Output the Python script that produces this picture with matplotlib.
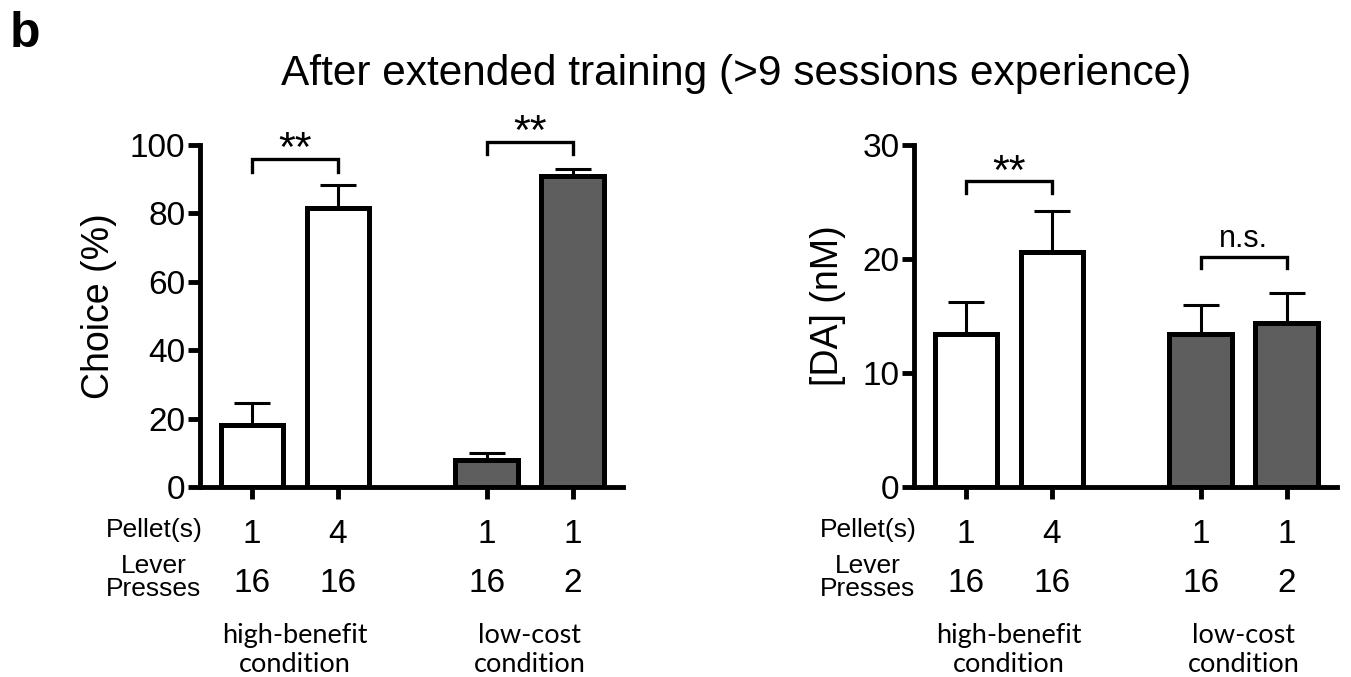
import matplotlib
matplotlib.use('Agg')
import matplotlib.pyplot as plt
from matplotlib.transforms import blended_transform_factory

plt.rcParams['font.family'] = ['Liberation Sans', 'DejaVu Sans']

# values
choice_mean = [18.0, 81.7, 7.9, 90.8]
choice_err = [6.6, 6.6, 2.1, 2.2]
da_mean = [13.4, 20.6, 13.4, 14.4]
da_err = [2.8, 3.6, 2.55, 2.6]

pellets = ['1', '4', '1', '1']
presses = ['16', '16', '16', '2']
cond_top = ['high-benefit', 'low-cost']
cond_bottom = ['condition', 'condition']
bar_colors = ['white', 'white', '#5e5e5e', '#5e5e5e']

# significance brackets: (bar a, bar b, height, label)
choice_sig = [(0, 1, 95.9, '**'), (2, 3, 101.0, '**')]
da_sig = [(0, 1, 26.8, '**'), (2, 3, 20.2, 'n.s.')]

pos = [1, 2, 3.73, 4.73]
W, H = 1351, 677

fig = plt.figure(figsize=(W / 100, H / 100), dpi=100)


def fy(px):
    return 1 - px / H


def panel(left_px, means, errs, ymax, yticks, ylabel, ylabel_x, sig, leg):
    ax = fig.add_axes([left_px / W, fy(487), 422.7 / W, fy(145) - fy(487)])
    ax.bar(pos, means, width=0.73, color=bar_colors, edgecolor='black',
           linewidth=3.6, zorder=2)
    ax.errorbar(pos, means, yerr=[[0] * 4, errs], fmt='none', ecolor='black',
                elinewidth=2.2, capsize=13, capthick=2.2, zorder=1)
    ax.set_xlim(0.395, 5.31)
    ax.set_ylim(0, ymax)
    ax.set_yticks(yticks)
    ax.set_xticks(pos)
    ax.set_xticklabels([])
    for s in ['top', 'right']:
        ax.spines[s].set_visible(False)
    for s in ['left', 'bottom']:
        ax.spines[s].set_linewidth(3.5)
    ax.tick_params(width=3.5, length=8.5, labelsize=24, pad=2)

    fig.text(ylabel_x / W, fy(306), ylabel, rotation=90, ha='center',
             va='center', fontsize=27)

    for a, b, y, lab in sig:
        xa, xb = pos[a], pos[b]
        ax.plot([xa, xa, xb, xb], [y - leg, y, y, y - leg], color='black',
                lw=2.4, clip_on=False, solid_joinstyle='miter')
        if lab == '**':
            ax.annotate(lab, ((xa + xb) / 2, y), xytext=(0, -1.5),
                        textcoords='offset points', ha='center',
                        va='baseline', fontsize=31, annotation_clip=False)
        else:
            ax.annotate(lab, ((xa + xb) / 2, y), xytext=(0, 7),
                        textcoords='offset points', ha='center',
                        va='baseline', fontsize=22, annotation_clip=False)

    tr = blended_transform_factory(ax.transData, fig.transFigure)
    lab_x = pos[0] - 1.14
    ax.text(lab_x, fy(537), 'Pellet(s)', transform=tr, ha='center',
            va='baseline', fontsize=19)
    ax.text(lab_x, fy(573), 'Lever', transform=tr, ha='center',
            va='baseline', fontsize=19)
    ax.text(lab_x, fy(596), 'Presses', transform=tr, ha='center',
            va='baseline', fontsize=19)
    for x, p, l in zip(pos, pellets, presses):
        ax.text(x, fy(542.7), p, transform=tr, ha='center', va='baseline',
                fontsize=24)
        ax.text(x, fy(591.7), l, transform=tr, ha='center', va='baseline',
                fontsize=24)
    for i, (t1, t2) in enumerate(zip(cond_top, cond_bottom)):
        cx = (pos[2 * i] + pos[2 * i + 1]) / 2
        ax.text(cx, fy(643), t1, transform=tr, ha='center', va='baseline',
                fontsize=19.5, family='Lato')
        ax.text(cx, fy(672), t2, transform=tr, ha='center', va='baseline',
                fontsize=19.5, family='Lato')
    return ax


panel(200, choice_mean, choice_err, 100, [0, 20, 40, 60, 80, 100],
      'Choice (%)', 99, choice_sig, 3.7)
panel(914, da_mean, da_err, 30, [0, 10, 20, 30],
      '[DA] (nM)', 828, da_sig, 1.0)

fig.text(736 / W, fy(85), 'After extended training (>9 sessions experience)',
         ha='center', va='baseline', fontsize=30.5)
fig.text(10 / W, fy(47), 'b', ha='left', va='baseline', fontsize=36,
         fontweight='bold')

fig.savefig('out.png', dpi=100)
